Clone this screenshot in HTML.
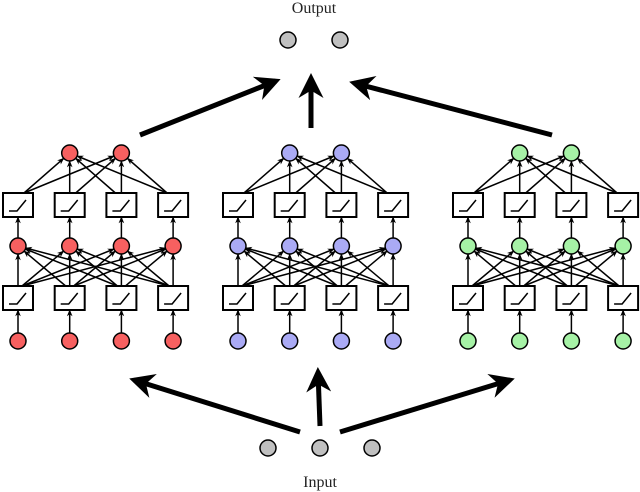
<!DOCTYPE html>
<html><head><meta charset="utf-8"><style>
html,body{margin:0;padding:0;background:#fff;width:640px;height:492px;overflow:hidden}
text{font-family:"Liberation Serif",serif;font-size:16px;fill:#222}
</style></head><body>
<svg id="s" width="640" height="492" viewBox="0 0 640 492" xmlns="http://www.w3.org/2000/svg">
<defs>
<marker id="a" viewBox="0 0 10 10" refX="9" refY="5" markerWidth="7" markerHeight="7" orient="auto" markerUnits="userSpaceOnUse"><path d="M0,1 L10,5 L0,9 L3,5 z" fill="#000"/></marker>
<marker id="b" viewBox="0 0 10 10" refX="8" refY="5" markerWidth="5" markerHeight="5" orient="auto"><path d="M0,0 L10,5 L0,10 L3,5 z" fill="#000"/></marker>
</defs>
<text x="314" y="13" text-anchor="middle">Output</text>
<text x="320" y="487" text-anchor="middle">Input</text>
<g id="g"></g>
</svg>
<script>
var g=document.getElementById('g'),h='';
function ln(x1,y1,x2,y2,r){var dx=x2-x1,dy=y2-y1,L=Math.hypot(dx,dy);x2-=dx/L*r;y2-=dy/L*r;
h+='<line x1="'+x1+'" y1="'+y1+'" x2="'+x2.toFixed(1)+'" y2="'+y2.toFixed(1)+'" stroke="#000" stroke-width="1.5" marker-end="url(#a)"/>';}
function big(x1,y1,x2,y2){h+='<line x1="'+x1+'" y1="'+y1+'" x2="'+x2+'" y2="'+y2+'" stroke="#000" stroke-width="5" marker-end="url(#b)"/>';}
function circ(x,y,c){h+='<circle cx="'+x+'" cy="'+y+'" r="8" fill="'+c+'" stroke="#000" stroke-width="1.5"/>';}
function box(x,y){h+='<rect x="'+(x-15)+'" y="'+(y-12)+'" width="30" height="24" fill="#fff" stroke="#000" stroke-width="2"/>'+
'<polyline points="'+(x-9)+','+(y+6)+' '+(x-1)+','+(y+6)+' '+(x+8)+','+(y-5)+'" fill="none" stroke="#000" stroke-width="1.5"/>';}
var groups=[[18,'#f76060'],[238,'#aaaaf5'],[468,'#a6f2a6']];
groups.forEach(function(gr){var x0=gr[0],c=gr[1],xs=[0,1,2,3].map(function(i){return x0+i*51.7});
var tops=[xs[1],xs[2]];
xs.forEach(function(x){ln(x,333,x,310,0);ln(x,238,x,217,0);});
xs.forEach(function(x){xs.forEach(function(t){ if(t===x) ln(x,286,t,246,8); else ln(x+(t>x?4:-4),286,t,246,8);});});
xs.forEach(function(x){tops.forEach(function(t){ if(Math.abs(t-x)<1) ln(x,193,t,153,8); else ln(x+(t>x?6:-6),193,t,153,8);});});
xs.forEach(function(x){circ(x,341,c);box(x,298);circ(x,246,c);box(x,205);});
tops.forEach(function(t){circ(t,153,c);});
});
big(140,135,276,81);big(311,128,311,78);big(552,135,354,83);
big(300,432,134,380);big(320,426,318,372);big(340,432,510,380);
circ(288,40,'#c0c0c0');circ(340,40,'#c0c0c0');
circ(268,448,'#c0c0c0');circ(320,448,'#c0c0c0');circ(372,448,'#c0c0c0');
g.innerHTML=h;
</script>
</body></html>
